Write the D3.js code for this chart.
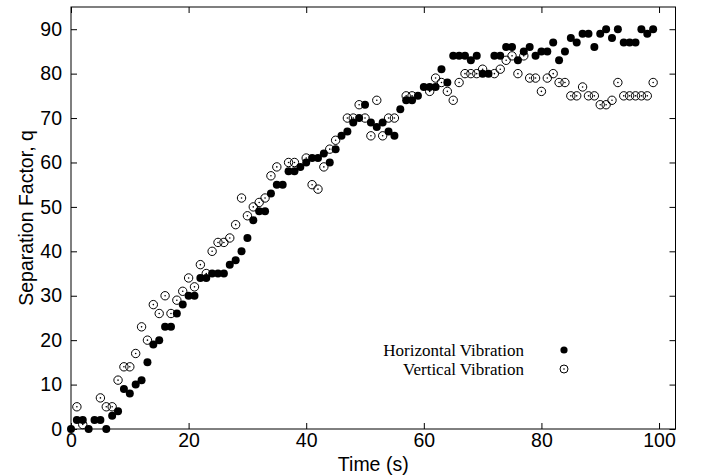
<!DOCTYPE html>
<html>
<head>
<meta charset="utf-8">
<script src="https://cdn.jsdelivr.net/npm/d3@7"></script>
<style>
  html, body { margin: 0; padding: 0; background: #fff; }
  svg { display: block; }
</style>
</head>
<body>
<svg id="chart" width="702" height="475"></svg>
<script>
// ---- data ----
const horizontalTime = [0,1,2,3,4,5,6,7,8,9,10,11,12,13,14,15,16,17,18,19,20,21,22,23,24,25,26,27,28,29,30,31,32,33,34,35,36,37,38,39,40,41,42,43,44,45,46,47,48,49,50,51,52,53,54,55,56,57,58,59,60,61,62,63,64,65,66,67,68,69,70,71,72,73,74,75,76,77,78,79,80,81,82,83,84,85,86,87,88,89,90,91,92,93,94,95,96,97,98,99];
const horizontalQ = [0,2,2,0,2,2,0,3,4,9,8,10,11,15,19,20,23,23,26,28,30,30,34,34,35,35,35,37,38,40,43,47,49,49,53,55,55,58,58,59,60,61,61,62,60,63,66,67,69,70,73,69,68,69,67,66,72,74,74,75,77,77,77,81,78,84,84,84,83,84,80,80,84,84,86,86,83,85,86,84,85,85,87,83,85,88,87,89,89,86,89,90,88,90,87,87,87,90,89,90];

const verticalTime = [1,2,5,6,7,8,9,10,11,12,13,14,15,16,17,18,19,20,21,22,23,24,25,26,27,28,29,30,31,32,33,34,35,37,38,40,41,42,43,44,45,47,48,49,50,51,52,53,54,55,57,58,61,62,63,64,65,66,67,68,69,70,72,73,74,75,76,77,78,79,80,81,82,83,84,85,86,87,88,89,90,91,92,93,94,95,96,97,98,99];
const verticalQ = [5,1,7,5,5,11,14,14,17,23,20,28,26,30,26,29,31,34,32,37,35,40,42,42,43,46,52,48,50,51,52,57,59,60,60,61,55,54,59,63,65,70,70,73,70,66,74,66,70,70,75,75,76,79,78,76,74,78,80,80,80,81,80,81,83,84,80,84,79,79,76,79,80,78,78,75,75,77,75,75,73,73,74,78,75,75,75,75,75,78];

const xTicks = [0, 20, 40, 60, 80, 100];
const yTicks = [0, 10, 20, 30, 40, 50, 60, 70, 80, 90];
const seriesNames = ["Horizontal Vibration", "Vertical Vibration"];

// ---- layout ----
const svg = d3.select("#chart");
const pLeft = 71, pRight = 675.5, pTop = 7, pBottom = 429;

const x = d3.scaleLinear().domain([0, 102.8]).range([pLeft, pRight]);
const y = d3.scaleLinear().domain([0, 95]).range([pBottom, pTop]);

svg.append("rect").attr("width", 702).attr("height", 475).attr("fill", "#fff");

const sans = "'Liberation Sans', Arial, Helvetica, sans-serif";
const serif = "'Liberation Serif', 'Times New Roman', Times, serif";

function styleAxis(g, showText) {
  g.select(".domain").remove();
  g.selectAll(".tick line").attr("stroke", "#000").attr("stroke-width", 1);
  g.selectAll(".tick text")
    .attr("fill", "#000")
    .style("font-family", sans)
    .style("font-size", "19.5px");
  if (!showText) g.selectAll(".tick text").remove();
}

svg.append("g").attr("transform", `translate(0,${pBottom})`)
  .call(d3.axisBottom(x).tickValues(xTicks).tickSizeInner(-6).tickSizeOuter(0).tickPadding(4))
  .call(g => styleAxis(g, true));
svg.append("g").attr("transform", `translate(0,${pTop})`)
  .call(d3.axisTop(x).tickValues(xTicks).tickSizeInner(-6).tickSizeOuter(0))
  .call(g => styleAxis(g, false));
svg.append("g").attr("transform", `translate(${pLeft},0)`)
  .call(d3.axisLeft(y).tickValues(yTicks).tickSizeInner(-6).tickSizeOuter(0).tickPadding(9))
  .call(g => styleAxis(g, true));
svg.append("g").attr("transform", `translate(${pRight},0)`)
  .call(d3.axisRight(y).tickValues(yTicks).tickSizeInner(-6).tickSizeOuter(0))
  .call(g => styleAxis(g, false));

// frame
svg.append("rect")
  .attr("x", pLeft).attr("y", pTop)
  .attr("width", pRight - pLeft).attr("height", pBottom - pTop)
  .attr("fill", "none").attr("stroke", "#000").attr("stroke-width", 1);

// axis titles
svg.append("text")
  .attr("x", (pLeft + pRight) / 2).attr("y", 471)
  .attr("text-anchor", "middle")
  .style("font-family", sans).style("font-size", "19.5px")
  .text("Time (s)");
svg.append("text")
  .attr("transform", `translate(33,${(pTop + pBottom) / 2}) rotate(-90)`)
  .attr("text-anchor", "middle")
  .style("font-family", sans).style("font-size", "19.5px")
  .text("Separation Factor, q");

// data
const hData = horizontalTime.map((t, i) => ({ t, q: horizontalQ[i] }));
const vData = verticalTime.map((t, i) => ({ t, q: verticalQ[i] }));

const plot = svg.append("g");
plot.selectAll("circle.h").data(hData).join("circle")
  .attr("class", "h")
  .attr("cx", d => x(d.t)).attr("cy", d => y(d.q))
  .attr("r", 4).attr("fill", "#000");

const vg = plot.selectAll("g.v").data(vData).join("g").attr("class", "v")
  .attr("transform", d => `translate(${x(d.t)},${y(d.q)})`);
vg.append("circle").attr("r", 4.2).attr("fill", "none").attr("stroke", "#000").attr("stroke-width", 1);
vg.append("circle").attr("r", 0.8).attr("fill", "#000");

// legend
const legend = svg.append("g");
const legendY = [350, 369];
legend.selectAll("text").data(seriesNames).join("text")
  .attr("x", 524).attr("y", (d, i) => legendY[i])
  .attr("dy", "0.35em")
  .attr("text-anchor", "end")
  .style("font-family", serif).style("font-size", "17px")
  .text(d => d);
legend.append("circle").attr("cx", 564).attr("cy", legendY[0]).attr("r", 3.6).attr("fill", "#000");
const lv = legend.append("g").attr("transform", `translate(564,${legendY[1]})`);
lv.append("circle").attr("r", 4).attr("fill", "none").attr("stroke", "#000").attr("stroke-width", 1);
lv.append("circle").attr("r", 0.8).attr("fill", "#000");
</script>
</body>
</html>
